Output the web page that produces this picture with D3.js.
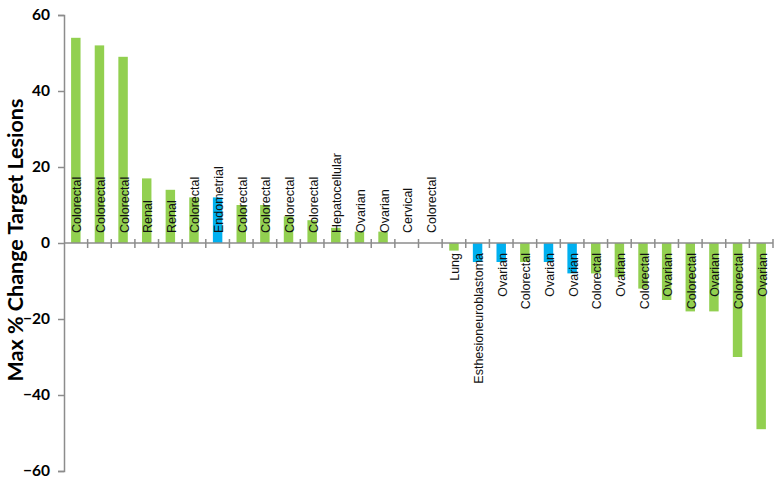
<!DOCTYPE html>
<html>
<head>
<meta charset="utf-8">
<script src="https://cdn.jsdelivr.net/npm/d3@7"></script>
<style>
  body { margin: 0; background: #fff; }
  svg { display: block; }
</style>
</head>
<body>
<div id="chart"></div>
<script>
// Data
var tumorTypes = ["Colorectal", "Colorectal", "Colorectal", "Renal", "Renal", "Colorectal",
  "Endometrial", "Colorectal", "Colorectal", "Colorectal", "Colorectal", "Hepatocellular",
  "Ovarian", "Ovarian", "Cervical", "Colorectal", "Lung", "Esthesioneuroblastoma",
  "Ovarian", "Colorectal", "Ovarian", "Ovarian", "Colorectal", "Ovarian", "Colorectal",
  "Ovarian", "Colorectal", "Ovarian", "Colorectal", "Ovarian"];
var maxChange = [54, 52, 49, 17, 14, 12, 12, 10, 10, 7, 6, 4, 3, 3, 0, 0,
  -2, -5, -5, -5, -5, -8, -8, -9, -12, -15, -18, -18, -30, -49];
// which group each patient belongs to (blue = b, green = g)
var groups = ["g", "g", "g", "g", "g", "g", "b", "g", "g", "g", "g", "g", "g", "g", "g", "g",
  "g", "b", "b", "g", "b", "b", "g", "g", "g", "g", "g", "g", "g", "g"];
var yTicks = [-60, -40, -20, 0, 20, 40, 60];

var svgWidth = 783;
var svgHeight = 486;
var margin = { top: 15, right: 10, bottom: 15, left: 64 };
var width = svgWidth - margin.left - margin.right;
var height = svgHeight - margin.top - margin.bottom;

var data = tumorTypes.map(function(t, i) {
  return { id: i, type: t, value: maxChange[i], group: groups[i] };
});

var svg = d3.select("#chart").append("svg")
  .attr("width", svgWidth)
  .attr("height", svgHeight);

var chartGroup = svg.append("g")
  .attr("transform", `translate(${margin.left}, ${margin.top})`);

var xScale = d3.scaleBand()
  .domain(data.map(d => d.id))
  .range([0, width])
  .paddingInner(0.6)
  .paddingOuter(0.3);

var yScale = d3.scaleLinear()
  .domain([-60, 60])
  .range([height, 0]);

var colors = { g: "#92d050", b: "#00b0f0" };
var axisColor = "#8c8c8c";

// bars
chartGroup.selectAll("rect.bar")
  .data(data)
  .enter()
  .append("rect")
  .attr("class", "bar")
  .attr("x", d => xScale(d.id))
  .attr("width", xScale.bandwidth())
  .attr("y", d => yScale(Math.max(0, d.value)))
  .attr("height", d => Math.abs(yScale(d.value) - yScale(0)))
  .attr("fill", d => colors[d.group]);

// y axis
var leftAxis = d3.axisLeft(yScale).tickValues(yTicks).tickSize(6).tickPadding(8);
var yAxisG = chartGroup.append("g").call(leftAxis);
yAxisG.select(".domain").attr("stroke", axisColor).attr("stroke-width", 1.5);
yAxisG.selectAll(".tick line").attr("stroke", axisColor).attr("stroke-width", 1.5);
yAxisG.selectAll(".tick text")
  .attr("font-family", "Lato, 'Open Sans', sans-serif")
  .attr("font-weight", "bold")
  .attr("font-size", 15.5)
  .attr("fill", "#000");

// category axis through zero, cross ticks between bars
var step = xScale.step();
var y0 = yScale(0);
chartGroup.append("line")
  .attr("x1", 0).attr("x2", width)
  .attr("y1", y0).attr("y2", y0)
  .attr("stroke", axisColor).attr("stroke-width", 1.5);

chartGroup.append("g")
  .selectAll("line")
  .data(data)
  .enter()
  .append("line")
  .attr("x1", d => (d.id + 1) * step)
  .attr("x2", d => (d.id + 1) * step)
  .attr("y1", y0 - 4)
  .attr("y2", y0 + 5)
  .attr("stroke", axisColor)
  .attr("stroke-width", 1.5);

// tumor type labels
chartGroup.append("g")
  .selectAll("text")
  .data(data)
  .enter()
  .append("text")
  .attr("transform", function(d) {
    var cx = xScale(d.id) + xScale.bandwidth() / 2 + 1;
    var ty = d.value >= 0 ? y0 - 10 : y0 + 10;
    return `translate(${cx}, ${ty}) rotate(-90)`;
  })
  .attr("text-anchor", d => d.value >= 0 ? "start" : "end")
  .attr("dy", "0.36em")
  .attr("font-family", "'Liberation Sans', Arial, sans-serif")
  .attr("font-size", 12.5)
  .attr("fill", "#111")
  .text(d => d.type);

// y axis title
svg.append("text")
  .attr("transform", `translate(23, 240) rotate(-90)`)
  .attr("text-anchor", "middle")
  .attr("font-family", "Lato, 'Open Sans', sans-serif")
  .attr("font-weight", "bold")
  .attr("font-size", 21.5)
  .attr("fill", "#000")
  .text("Max % Change Target Lesions");
</script>
</body>
</html>
